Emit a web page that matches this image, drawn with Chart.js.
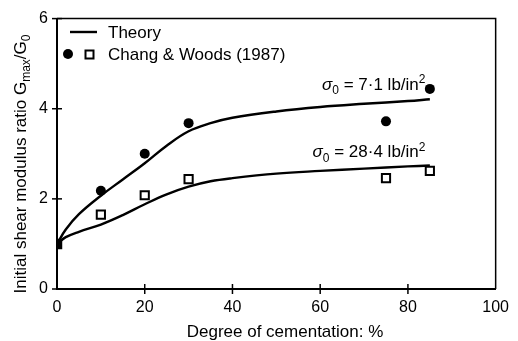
<!DOCTYPE html>
<html>
<head>
<meta charset="utf-8">
<script src="https://cdn.jsdelivr.net/npm/chart.js@4.4.1/dist/chart.umd.min.js"></script>
<style>
  html, body { margin: 0; padding: 0; background: #fff; }
  #wrap { width: 518px; height: 341px; }
</style>
</head>
<body>
<div id="wrap"><canvas id="myChart" width="518" height="341"></canvas></div>
<script>
// theory curves
var theoryX = [0, 2, 5, 10, 15, 20, 25, 30, 35, 40, 50, 60, 70, 80, 85];
var theoryHigh = [1, 1.32, 1.66, 2.07, 2.43, 2.79, 3.18, 3.5, 3.68, 3.8, 3.94, 4.04, 4.11, 4.17, 4.21];
var theoryLow = [1, 1.15, 1.27, 1.43, 1.64, 1.88, 2.1, 2.27, 2.39, 2.46, 2.56, 2.62, 2.67, 2.72, 2.74];

// Chang & Woods (1987) test points
var testX = [0, 10, 20, 30, 75, 85];
var testHigh = [1, 2.18, 3.0, 3.68, 3.72, 4.44];
var testLow = [1, 1.65, 2.08, 2.44, 2.46, 2.62];

var xTicks = [0, 20, 40, 60, 80, 100];
var yTicks = [0, 2, 4, 6];

function pts(xs, ys) {
    return xs.map(function (x, i) { return { x: x, y: ys[i] }; });
}

var FONT = '"Liberation Sans", Arial, Helvetica, sans-serif';

// draw text with sub/superscript pieces: parts = [[text, 'n'|'sub'|'sup'|'it'], ...]
function richText(ctx, parts, x, y, size, align) {
    function fontFor(kind) {
        if (kind === 'sub' || kind === 'sup') return Math.round(size * 0.7) + 'px ' + FONT;
        if (kind === 'it') return 'italic ' + size + 'px ' + FONT;
        return size + 'px ' + FONT;
    }
    var total = 0;
    parts.forEach(function (p) { ctx.font = fontFor(p[1]); total += ctx.measureText(p[0]).width; });
    var cx = x;
    if (align === 'center') cx = x - total / 2;
    if (align === 'right') cx = x - total;
    ctx.textBaseline = 'alphabetic';
    ctx.textAlign = 'left';
    parts.forEach(function (p) {
        ctx.font = fontFor(p[1]);
        var dy = 0;
        if (p[1] === 'sub') dy = size * 0.25;
        if (p[1] === 'sup') dy = -size * 0.4;
        ctx.fillText(p[0], cx, y + dy);
        cx += ctx.measureText(p[0]).width;
    });
}

var decor = {
    id: 'decor',
    afterDraw: function (chart) {
        var ctx = chart.ctx, a = chart.chartArea;
        var xs = chart.scales.x, ys = chart.scales.y;
        ctx.save();
        ctx.strokeStyle = '#000';
        ctx.fillStyle = '#000';

        // top and right frame
        ctx.lineWidth = 1.5;
        ctx.beginPath();
        ctx.moveTo(a.left, a.top);
        ctx.lineTo(a.right, a.top);
        ctx.lineTo(a.right, a.bottom);
        ctx.stroke();

        // ticks crossing the axes
        ctx.lineWidth = 1.5;
        xTicks.forEach(function (v) {
            if (v === 0 || v === 100) return;
            var px = xs.getPixelForValue(v);
            ctx.beginPath();
            ctx.moveTo(px, a.bottom - 5);
            ctx.lineTo(px, a.bottom + 5);
            ctx.stroke();
        });
        yTicks.forEach(function (v) {
            var py = ys.getPixelForValue(v);
            ctx.beginPath();
            ctx.moveTo(a.left - 5, py);
            ctx.lineTo(a.left + 5, py);
            ctx.stroke();
        });

        // axis titles
        richText(ctx, [['Degree of cementation: %', 'n']], 285, 337, 17, 'center');
        ctx.save();
        ctx.translate(26, 164);
        ctx.rotate(-Math.PI / 2);
        richText(ctx, [['Initial shear modulus ratio G', 'n'], ['max', 'sub'], ['/G', 'n'], ['0', 'sub']], 0, 0, 17, 'center');
        ctx.restore();

        // legend
        ctx.lineWidth = 2.4;
        ctx.beginPath();
        ctx.moveTo(70, 32);
        ctx.lineTo(97, 32);
        ctx.stroke();
        richText(ctx, [['Theory', 'n']], 108, 38, 17, 'left');
        ctx.beginPath();
        ctx.arc(68, 54, 5, 0, Math.PI * 2);
        ctx.fill();
        ctx.lineWidth = 2;
        ctx.strokeRect(85.5, 50.5, 8, 8);
        richText(ctx, [['Chang & Woods (1987)', 'n']], 108, 60, 17, 'left');

        // curve labels
        var rx = xs.getPixelForValue(84);
        richText(ctx, [['\u03c3', 'it'], ['0', 'sub'], [' = 7\u00b71 lb/in', 'n'], ['2', 'sup']], rx, ys.getPixelForValue(4.42), 17, 'right');
        richText(ctx, [['\u03c3', 'it'], ['0', 'sub'], [' = 28\u00b74 lb/in', 'n'], ['2', 'sup']], rx, ys.getPixelForValue(2.92), 17, 'right');
        ctx.restore();
    }
};

new Chart('myChart', {
    type: 'scatter',
    data: {
        datasets: [{
            data: pts(theoryX, theoryHigh),
            showLine: true,
            borderColor: '#000',
            borderWidth: 2.4,
            pointRadius: 0,
            tension: 0.4
        }, {
            data: pts(theoryX, theoryLow),
            showLine: true,
            borderColor: '#000',
            borderWidth: 2.4,
            pointRadius: 0,
            tension: 0.4
        }, {
            data: pts(testX, testHigh),
            pointStyle: 'circle',
            pointRadius: [0, 5, 5, 5, 5, 5],
            backgroundColor: '#000',
            borderColor: '#000',
            borderWidth: 0
        }, {
            data: pts(testX, testLow),
            pointStyle: 'rect',
            pointRadius: [6, 5.8, 5.8, 5.8, 5.8, 5.8],
            backgroundColor: ['#000', '#fff', '#fff', '#fff', '#fff', '#fff'],
            borderColor: '#000',
            borderWidth: 2
        }]
    },
    options: {
        responsive: false,
        devicePixelRatio: 1,
        animation: false,
        layout: { padding: { top: 14, right: 22, left: 0, bottom: 0 } },
        plugins: { legend: { display: false }, tooltip: { enabled: false } },
        scales: {
            x: {
                type: 'linear', min: 0, max: 100,
                afterFit: function (s) { s.height = 52; },
                afterBuildTicks: function (s) { s.ticks = xTicks.map(function (v) { return { value: v }; }); },
                grid: { display: false, drawTicks: false },
                border: { display: true, color: '#000', width: 2 },
                ticks: { color: '#000', padding: 9, font: { family: FONT, size: 16 } }
            },
            y: {
                type: 'linear', min: 0, max: 6,
                afterFit: function (s) { s.width = 57; },
                afterBuildTicks: function (s) { s.ticks = yTicks.map(function (v) { return { value: v }; }); },
                grid: { display: false, drawTicks: false },
                border: { display: true, color: '#000', width: 2 },
                ticks: { color: '#000', padding: 9, font: { family: FONT, size: 16 } }
            }
        }
    },
    plugins: [decor]
});
</script>
</body>
</html>
